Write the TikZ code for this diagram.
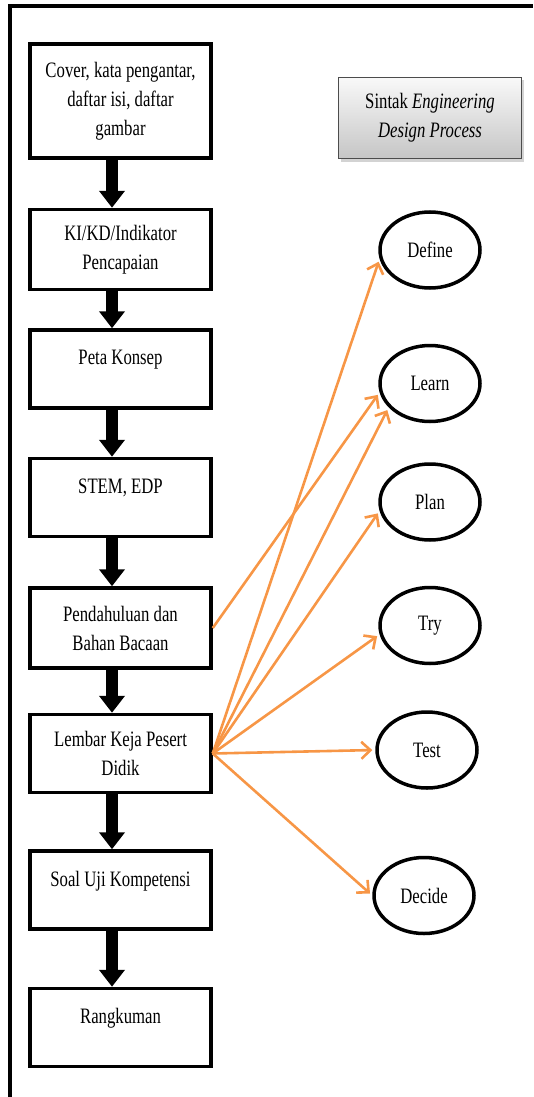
\documentclass[tikz,border=0pt]{standalone}
\usepackage{fontspec}
\setmainfont{Liberation Serif}[FakeStretch=0.76]
\usepackage{tikz}
\usetikzlibrary{arrows.meta,positioning,shapes.geometric,shadows}
\definecolor{edporange}{RGB}{247,150,70}

\begin{document}
\begin{tikzpicture}[x=1pt, y=1pt, node distance=45pt, font=\fontsize{22}{29}\selectfont]
    \tikzstyle{box}=[draw=black, line width=3.5pt, minimum width=181pt, minimum height=78pt, align=center, inner sep=2pt]
    \tikzstyle{topbox}=[box, text depth=23pt]
    \tikzstyle{phase}=[draw=black, ellipse, line width=3.5pt, minimum width=100pt, minimum height=76pt, inner sep=1pt]
    \tikzstyle{sintak}=[draw=gray!60!black, line width=1pt, top color=gray!5, bottom color=gray!45, minimum width=183pt, minimum height=81pt, align=center, drop shadow={shadow xshift=2pt, shadow yshift=-3pt, opacity=0.35}]
    \tikzstyle{down}=[line width=12pt, -{Triangle[length=17pt, width=25pt]}]
    \tikzstyle{link}=[draw=edporange, line width=2.6pt, -{Straight Barb[length=9pt, width=17pt]}, shorten >=3pt]

    \useasboundingbox (0,0) rectangle (533,-1097);

    % frame
    \draw[line width=3.5pt] (10,-1097) -- (10,-6) -- (533,-6);

    % contents of the module
    \node[box, minimum height=114pt] (cover) at (120.5,-101) {Cover, kata pengantar,\\ daftar isi, daftar\\ gambar};
    \node[box, minimum height=80pt, below=48pt of cover] (ki)          {KI/KD/Indikator\\ Pencapaian};
    \node[topbox, below=37pt of ki]                      (peta)        {Peta Konsep};
    \node[topbox, below=47pt of peta]                    (stem)        {STEM, EDP};
    \node[box, minimum height=80pt, below=48pt of stem]  (pendahuluan) {Pendahuluan dan\\ Bahan Bacaan};
    \node[box, below=43pt of pendahuluan]                (lembar)      {Lembar Keja Pesert\\ Didik};
    \node[topbox, below=55pt of lembar]                  (soal)        {Soal Uji Kompetensi};
    \node[topbox, below=56pt of soal]                    (rangkuman)   {Rangkuman};

    % syntax of EDP
    \node[sintak] (sintak) at (430,-118) {Sintak \textit{Engineering}\\ \textit{Design Process}};
    \node[phase] (define) at (430,-250)               {Define};
    \node[phase, below=54pt of define] (learn)         {Learn};
    \node[phase, below=39pt of learn]  (plan)          {Plan};
    \node[phase, below=44pt of plan]   (try)           {Try};
    \node[phase, below=45pt of try, xshift=-3pt] (test)   {Test};
    \node[phase, below=66pt of test, xshift=-3pt] (decide) {Decide};

    % block arrows
    \path ([xshift=-8.5pt]cover.south)       edge[down] ([xshift=-8.5pt]ki.north);
    \path ([xshift=-8.5pt]ki.south)          edge[down] ([xshift=-8.5pt]peta.north);
    \path ([xshift=-8.5pt]peta.south)        edge[down] ([xshift=-8.5pt]stem.north);
    \path ([xshift=-8.5pt]stem.south)        edge[down] ([xshift=-8.5pt]pendahuluan.north);
    \path ([xshift=-8.5pt]pendahuluan.south) edge[down] ([xshift=-8.5pt]lembar.north);
    \path ([xshift=-8.5pt]lembar.south)      edge[down] ([xshift=-8.5pt]soal.north);
    \path ([xshift=-8.5pt]soal.south)        edge[down] ([xshift=-8.5pt]rangkuman.north);

    % orange edges
    \path (pendahuluan.east) edge[link] (learn.190);
    \path (lembar.east) edge[link] (define.190);
    \path (lembar.east) edge[link] (learn.210);
    \path (lembar.east) edge[link] (plan.190);
    \path (lembar.east) edge[link] (try.190);
    \path (lembar.east) edge[link] (test.west);
    \path (lembar.east) edge[link] (decide.west);

\end{tikzpicture}
\end{document}
